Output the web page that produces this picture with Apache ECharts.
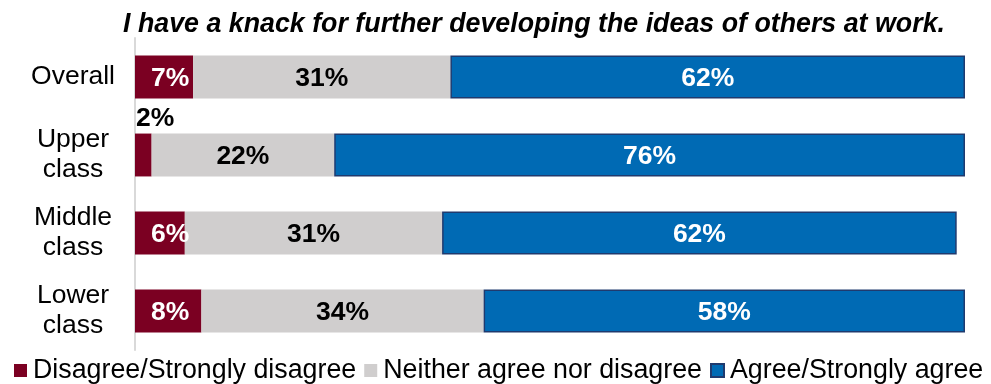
<!DOCTYPE html>
<html>
<head>
<meta charset="utf-8">
<script src="https://cdn.jsdelivr.net/npm/echarts@6/dist/echarts.min.js"></script>
<style>
  html, body { margin: 0; padding: 0; background: #ffffff; }
  #chart { width: 991px; height: 384px; }
</style>
</head>
<body>
<div id="chart"></div>
<script>
// Survey groups, top to bottom
const categories = ['Overall', 'Upper\nclass', 'Middle\nclass', 'Lower\nclass'];

// Share of respondents (%) per answer group
const disagree = [7, 2, 6, 8];
const neither = [31, 22, 31, 34];
const agree = [62, 76, 62, 58];

const seriesNames = ['Disagree/Strongly disagree', 'Neither agree nor disagree', 'Agree/Strongly agree'];
const titleText = 'I have a knack for further developing the ideas of others at work.';

const FONT = 'Liberation Sans, Arial, sans-serif';
const labelBase = {
  show: true,
  position: 'inside',
  fontFamily: FONT,
  fontSize: 26.5,
  fontWeight: 'bold',
  offset: [0, 2],
  formatter: p => p.value + '%'
};

// Small segments get their label lifted above the bar
const disagreeData = disagree.map(v => v < 4
  ? { value: v, label: { position: [1, -1], align: 'left', verticalAlign: 'bottom', offset: [0, 0], color: '#000000' } }
  : v);

const chart = echarts.init(document.getElementById('chart'), null, { renderer: 'canvas' });
chart.setOption({
  animation: false,
  backgroundColor: '#ffffff',
  title: {
    text: titleText,
    left: 118,
    top: 6,
    textStyle: { fontFamily: FONT, fontSize: 26.8, fontWeight: 'bold', fontStyle: 'italic', color: '#000000' }
  },
  legend: {
    data: seriesNames,
    left: 9,
    top: 352,
    width: 982,
    icon: 'rect',
    itemWidth: 13,
    itemHeight: 13,
    itemGap: 8,
    textStyle: { fontFamily: FONT, fontSize: 26.8, color: '#000000', padding: [0, 0, 0, 1] }
  },
  grid: { left: 135, right: 26, top: 38, bottom: 34 },
  xAxis: {
    type: 'value',
    min: 0,
    max: 100,
    show: false
  },
  yAxis: {
    type: 'category',
    data: categories,
    inverse: true,
    axisLine: { show: true, lineStyle: { color: '#D9D9D9', width: 2 } },
    axisTick: { show: false },
    axisLabel: {
      fontFamily: FONT,
      fontSize: 26.5,
      color: '#000000',
      align: 'center',
      margin: 62,
      lineHeight: 30,
      padding: [5, 0, 0, 0]
    }
  },
  series: [
    {
      name: seriesNames[0],
      type: 'bar',
      stack: 'total',
      barCategoryGap: '45%',
      data: disagreeData,
      itemStyle: { color: '#7B0022' },
      label: Object.assign({}, labelBase, { position: 'insideLeft', distance: 16, color: '#ffffff' })
    },
    {
      name: seriesNames[1],
      type: 'bar',
      stack: 'total',
      data: neither,
      itemStyle: { color: '#D0CECE' },
      label: Object.assign({}, labelBase, { color: '#000000' })
    },
    {
      name: seriesNames[2],
      type: 'bar',
      stack: 'total',
      data: agree,
      itemStyle: { color: '#006AB4', borderColor: '#1F3A6E', borderWidth: 1.5 },
      label: Object.assign({}, labelBase, { color: '#ffffff' })
    }
  ]
});
</script>
</body>
</html>
